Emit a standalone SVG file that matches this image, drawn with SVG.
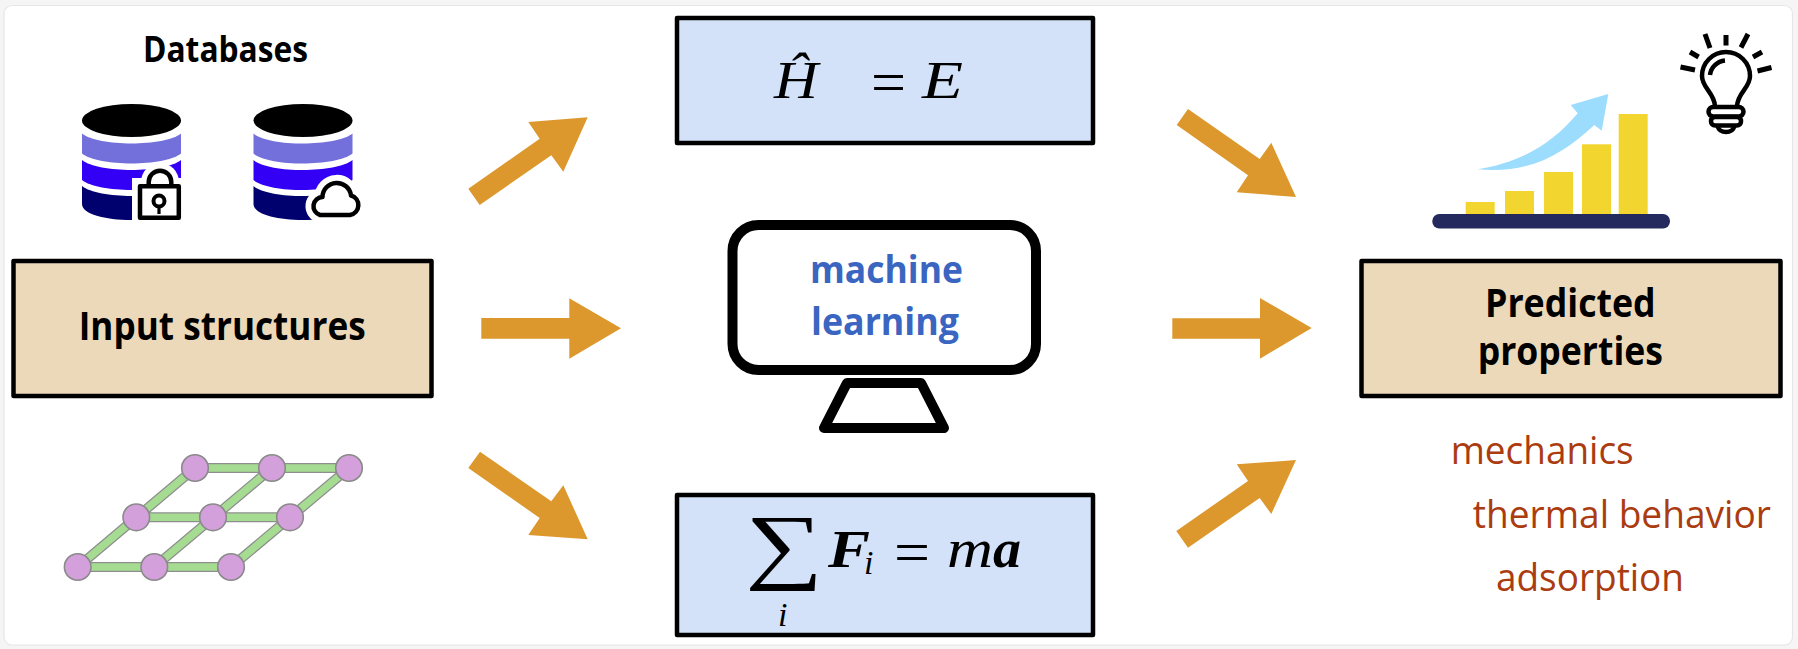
<svg xmlns="http://www.w3.org/2000/svg" width="1798" height="649" viewBox="0 0 1798 649">
  <style>
    .sans { font-family: "Open Sans", "Noto Sans", "Liberation Sans", sans-serif; }
    .head { font-weight: 700; fill: #000; font-size: 40px; }
    .ml { font-weight: 700; fill: #3a65c0; font-size: 38px; }
    .prop { fill: #ab3c10; font-size: 38px; }
    .tan { fill: #ecd9b9; stroke: #000; stroke-width: 4.5; stroke-linejoin: round; }
    .blue { fill: #d3e2f8; stroke: #000; stroke-width: 4.5; stroke-linejoin: round; }
    .arrow { fill: #dc982d; }
    .math { font-family: "Liberation Serif", "DejaVu Serif", serif; fill: #000; }
    .it { font-style: italic; }
    .bi { font-style: italic; font-weight: 700; }
    .bond { stroke: #8e8e8e; stroke-width: 10; fill: none; }
    .bond-in { stroke: #a6dc92; stroke-width: 7.5; fill: none; }
    .atom { fill: #d4a0dc; stroke: #8a8a8a; stroke-width: 1.6; }
    .outline { fill: none; stroke: #000; stroke-width: 4.5; stroke-linejoin: round; stroke-linecap: butt; }
    .ray { stroke: #000; stroke-width: 5; fill: none; }
  </style>
  <defs>
    <g id="cylinder">
      <ellipse cx="49.5" cy="16.5" rx="49.5" ry="16.5" fill="#000"/>
      <path d="M0 29.5C16 42.8 83 42.8 99 29.5V49.5C83 62.8 16 62.8 0 49.5Z" fill="#7370dc"/>
      <path d="M0 56C16 69.3 83 69.3 99 56V76C83 89.3 16 89.3 0 76Z" fill="#3300f5"/>
      <path d="M0 82C16 95.3 83 95.3 99 82V100C99 110 76 116 49.5 116C23 116 0 110 0 100Z" fill="#00006e"/>
    </g>
  </defs>

  <rect width="1798" height="649" fill="#f5f5f5"/>
  <rect x="4" y="5.5" width="1788.5" height="639.5" rx="8" fill="#fff" stroke="#e6e6e6" stroke-width="1.2"/>

  <g id="connectors">
    <polygon class="arrow" points="468.3,188.7 479.7,205 551.3,155.3 563.3,171.7 587.7,117.3 528.3,122 539.7,138.7"/>
    <polygon class="arrow" points="481.3,318 569.3,318 569.3,298.3 621,328.3 569.3,358.7 569.3,338.7 481.3,338.7"/>
    <polygon class="arrow" points="480,451.7 468.3,468 539.7,518 528.3,535 587.7,539.3 563.3,485.3 551.3,501.3"/>
    <polygon class="arrow" points="1188,109 1176.7,125 1248,175.3 1236.7,192.3 1296,197 1271.3,142.7 1259.7,159"/>
    <polygon class="arrow" points="1172.3,318.3 1260,318.3 1260,298 1311.7,328 1260,358.7 1260,338.7 1172.3,338.7"/>
    <polygon class="arrow" points="1176.3,531 1188,547.7 1259.7,498 1271.3,514 1296,460 1236.7,464.3 1248,481"/>
  </g>

  <g id="databases">
    <text class="sans head" x="143" y="62" style="font-size:35px" textLength="165" lengthAdjust="spacingAndGlyphs">Databases</text>
    <g id="db-locked">
      <use href="#cylinder" x="82" y="104"/>
      <circle cx="160" cy="182" r="19" fill="#fff"/>
      <rect x="132" y="178" width="50" height="43" fill="#fff"/>
      <path class="outline" d="M148.7 186V182A11.3 11.3 0 0 1 171.3 182V186"/>
      <rect class="outline" x="140" y="186.2" width="38.8" height="31.6"/>
      <circle cx="159" cy="201" r="5.5" fill="none" stroke="#000" stroke-width="4"/>
      <path d="M159 207V214" stroke="#000" stroke-width="3.2"/>
    </g>
    <g id="db-cloud">
      <use href="#cylinder" x="253.5" y="104"/>
      <path d="M320 215H350A10 10 0 0 0 351 195.500A14.300 14.300 0 0 0 322.500 197A9.200 9.200 0 0 0 320 215Z" fill="#fff" stroke="#fff" stroke-width="16"/>
      <path class="outline" d="M320 215H350A10 10 0 0 0 351 195.500A14.300 14.300 0 0 0 322.500 197A9.200 9.200 0 0 0 320 215Z"/>
    </g>
  </g>

  <g id="input-structures">
    <rect class="tan" x="13.5" y="261" width="418" height="135"/>
    <text class="sans head" x="78.7" y="340" textLength="287" lengthAdjust="spacingAndGlyphs">Input structures</text>
  </g>

  <g id="lattice">
    <path class="bond" d="M77.7 567H231M136.3 517.300H290M195 468H349M77.7 567L195 468M154.300 567L272 468M231 567L349 468"/>
    <path class="bond-in" d="M77.7 567H231M136.3 517.300H290M195 468H349M77.7 567L195 468M154.300 567L272 468M231 567L349 468"/>
    <circle class="atom" cx="77.7" cy="567" r="13.3"/>
    <circle class="atom" cx="154.3" cy="567" r="13.3"/>
    <circle class="atom" cx="231" cy="567" r="13.3"/>
    <circle class="atom" cx="136.3" cy="517.3" r="13.3"/>
    <circle class="atom" cx="213" cy="517.3" r="13.3"/>
    <circle class="atom" cx="290" cy="517.3" r="13.3"/>
    <circle class="atom" cx="195" cy="468" r="13.3"/>
    <circle class="atom" cx="272" cy="468" r="13.3"/>
    <circle class="atom" cx="349" cy="468" r="13.3"/>
  </g>

  <g id="schrodinger">
    <rect class="blue" x="677" y="18" width="416" height="125"/>
    <text class="math it" x="774" y="98" font-size="52" textLength="44" lengthAdjust="spacingAndGlyphs">Ĥ</text>
    <text class="math" x="871" y="103" font-size="62" textLength="35" lengthAdjust="spacingAndGlyphs">=</text>
    <text class="math it" x="922" y="98" font-size="52" textLength="41" lengthAdjust="spacingAndGlyphs">E</text>
  </g>

  <g id="monitor">
    <rect x="732.500" y="225" width="303.500" height="145" rx="26" fill="#fff" stroke="#000" stroke-width="10"/>
    <path d="M847 383H921L944 428H824Z" fill="#fff" stroke="#000" stroke-width="10" stroke-linejoin="round"/>
    <text class="sans ml" x="810" y="283" textLength="153" lengthAdjust="spacingAndGlyphs">machine</text>
    <text class="sans ml" x="811" y="335" textLength="148" lengthAdjust="spacingAndGlyphs">learning</text>
  </g>

  <g id="newton">
    <rect class="blue" x="677" y="495" width="416" height="140"/>
    <text class="math" x="745" y="573" font-size="84" textLength="78" lengthAdjust="spacingAndGlyphs">∑</text>
    <text class="math it" x="778" y="626" font-size="34">i</text>
    <text class="math bi" x="828" y="567" font-size="52" textLength="42" lengthAdjust="spacingAndGlyphs">F</text>
    <text class="math it" x="864" y="574" font-size="34">i</text>
    <text class="math" x="894" y="573" font-size="62" textLength="36" lengthAdjust="spacingAndGlyphs">=</text>
    <text class="math it" x="947" y="567" font-size="54" textLength="46" lengthAdjust="spacingAndGlyphs">m</text>
    <text class="math bi" x="993" y="567" font-size="54" textLength="28" lengthAdjust="spacingAndGlyphs">a</text>
  </g>

  <g id="chart">
    <rect x="1465.700" y="202" width="29" height="12" fill="#f3d52f"/>
    <rect x="1505" y="191" width="29" height="23" fill="#f3d52f"/>
    <rect x="1544" y="172" width="29" height="42" fill="#f3d52f"/>
    <rect x="1582" y="144.300" width="29" height="69.700" fill="#f3d52f"/>
    <rect x="1618.700" y="114" width="29" height="100" fill="#f3d52f"/>
    <rect x="1432.300" y="214" width="237.700" height="14.500" rx="7" fill="#252a5e"/>
    <path d="M1477.700 169.300C1522 162 1553 143 1577.700 113.300L1570.700 105L1608.300 94L1601.700 130.700L1594.300 125C1562 155 1530 174 1477.700 169.300Z" fill="#9cdcfd"/>
  </g>

  <g id="bulb">
    <path class="outline" d="M1715 106C1714 92 1702 88 1702 76A24 24 0 0 1 1750 76C1750 88 1738 92 1737 106"/>
    <path class="outline" d="M1710 75A16.500 16.500 0 0 1 1725 60.500"/>
    <rect class="outline" x="1708.500" y="107" width="35" height="9.500" rx="4.700"/>
    <rect class="outline" x="1711" y="117" width="30" height="8.500" rx="4"/>
    <path class="outline" d="M1718 126C1718 134 1734 134 1734 126"/>
    <path class="ray" d="M1705 34L1710 48M1726 35V45.600M1748 34L1741 47.500M1690 52L1698.600 57M1762 52L1753 57M1680.500 67L1695 70M1771.500 67.500L1757.500 71"/>
  </g>

  <g id="predicted-properties">
    <rect class="tan" x="1361.500" y="261" width="419" height="135"/>
    <text class="sans head" x="1485" y="316.700" textLength="170.700" lengthAdjust="spacingAndGlyphs">Predicted</text>
    <text class="sans head" x="1477.700" y="365" textLength="185.300" lengthAdjust="spacingAndGlyphs">properties</text>
  </g>

  <g id="property-list">
    <text class="sans prop" x="1450.700" y="464" textLength="183" lengthAdjust="spacingAndGlyphs">mechanics</text>
    <text class="sans prop" x="1472.700" y="528" textLength="298.300" lengthAdjust="spacingAndGlyphs">thermal behavior</text>
    <text class="sans prop" x="1496" y="591" textLength="188" lengthAdjust="spacingAndGlyphs">adsorption</text>
  </g>
</svg>
